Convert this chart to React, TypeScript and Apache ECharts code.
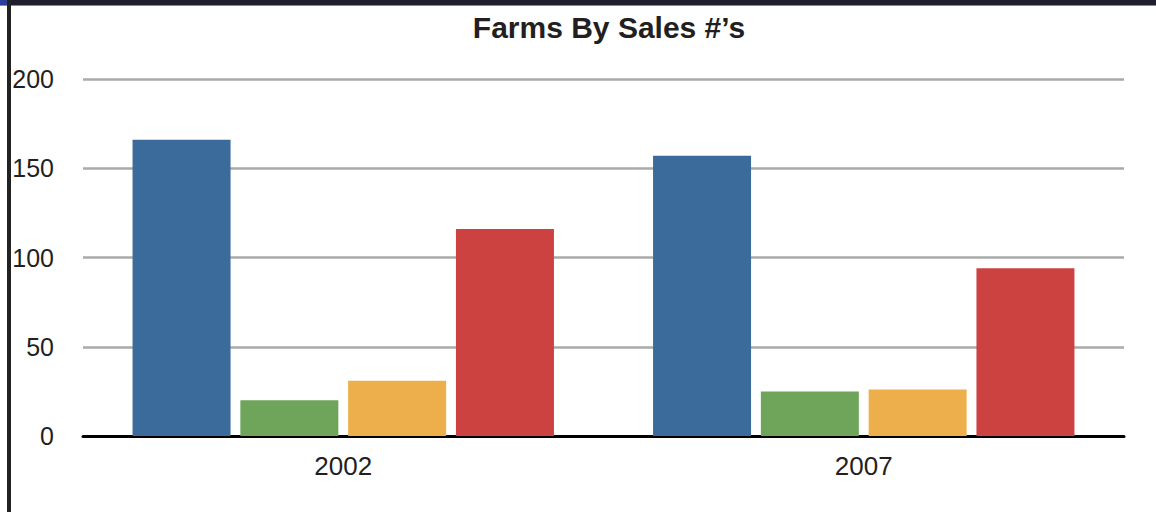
import React, { useEffect, useRef } from "react";
import * as echarts from "echarts";

const title = "Farms By Sales #’s";
const categories = ["2002", "2007"];
const seriesNames = ["Series 1", "Series 2", "Series 3", "Series 4"];
const seriesValues = [
  [166, 157],
  [20, 25],
  [31, 26],
  [116, 94],
];
const seriesColors = ["#3b6b9b", "#6ea55a", "#ecaf4b", "#cb4240"];
const yTicks = { min: 0, max: 200, interval: 50 };

const FONT = "'Liberation Sans', Arial, Helvetica, sans-serif";

export default function App() {
  const ref = useRef<HTMLDivElement>(null);
  useEffect(() => {
    if (!ref.current) return;
    const chart = echarts.init(ref.current, null, { renderer: "svg" });
    chart.setOption({
      animation: false,
      backgroundColor: "#ffffff",
      textStyle: { fontFamily: FONT },
      title: {
        text: title,
        left: 604,
        textAlign: "center",
        top: 7,
        textStyle: { fontFamily: FONT, fontSize: 30, fontWeight: "bold", color: "#231f20" },
      },
      grid: { left: 83, right: 32, top: 79, bottom: 76 },
      xAxis: {
        type: "category",
        data: categories,
        axisLine: { show: true, lineStyle: { color: "#000000", width: 3 } },
        axisTick: { show: false },
        axisLabel: { fontFamily: FONT, fontSize: 26, color: "#231f20", margin: 17 },
      },
      yAxis: {
        type: "value",
        min: yTicks.min,
        max: yTicks.max,
        interval: yTicks.interval,
        axisLine: { show: false },
        axisTick: { show: false },
        axisLabel: { fontFamily: FONT, fontSize: 25, color: "#231f20", margin: 29 },
        splitLine: { lineStyle: { color: "#aaaaaa", width: 2.5 } },
      },
      series: seriesValues.map((vals, i) => ({
        name: seriesNames[i],
        type: "bar",
        data: vals,
        barWidth: 98,
        barGap: "10%",
        itemStyle: { color: seriesColors[i] },
      })),
      graphic: [
        { type: "rect", shape: { x: 0, y: 0, width: 1156, height: 5 }, style: { fill: "#1e1e2e" }, z: 100 },
        { type: "rect", shape: { x: 0, y: 5, width: 1156, height: 1 }, style: { fill: "#8a8a8a" }, z: 100 },
        { type: "rect", shape: { x: 0, y: 0, width: 7, height: 5 }, style: { fill: "#2a3f9a" }, z: 101 },
        { type: "rect", shape: { x: 7, y: 0, width: 4, height: 512 }, style: { fill: "#222222" }, z: 100 },
      ],
    });
    return () => chart.dispose();
  }, []);
  return (
    <div
      ref={ref}
      style={{ position: "fixed", left: 0, top: 0, width: 1156, height: 512 }}
    />
  );
}
